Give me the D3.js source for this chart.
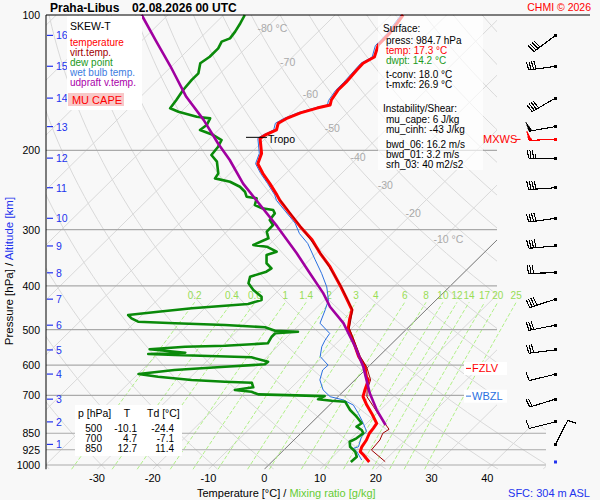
<!DOCTYPE html>
<html>
<head>
<meta charset="utf-8">
<script src="https://cdn.jsdelivr.net/npm/d3@7"></script>
<style>
  body { margin: 0; background: #f8f8f8; }
  svg { display: block; font-family: "Liberation Sans", Arial, sans-serif; }
</style>
</head>
<body>
<div id="chart"></div>
<script>
// ---- sounding data (pressure hPa / temperature °C) ----
const tempP = [984.7,950,934,911,880,850,829,808,768,736,705,681,647,637,605,574,528,497,476,452,426,398,362.5,338.5,316,295,276,258,251,237,225,214,203,188,185,180,174,170,165,161,158.5,154.5,147,141,132.5,128,124,121,116.6,109.6,100];
const tempT = [17.5,15.2,14.0,13.4,13.0,12.3,12.1,11.8,9.1,6.7,4.5,3.6,2.4,1.5,-0.6,-3.6,-7.6,-10.6,-11.9,-13.3,-16.4,-20.0,-25.1,-29.3,-33.2,-37.8,-42.0,-46.2,-47.7,-51.0,-54.1,-56.8,-58.0,-61.0,-60.7,-59.6,-60.5,-59.9,-58.4,-56.3,-54.5,-55.2,-55.8,-55.8,-56.1,-56.2,-55.3,-55.9,-56.8,-56.9,-57.8];

const dewP = [100,104.3,108.9,112.7,114.6,118.6,123.8,128,134.8,139.4,146.8,154.5,161.2,164,168.3,169.7,175.6,180.1,184.8,189.6,196.2,204.7,211.8,225,230.7,234.7,240.8,247,253.4,255.5,264.4,268.9,271.3,276,285.5,292.9,303.1,313.5,324.4,327.2,335.7,341.5,356.2,365.5,371.9,381.5,394.6,408.4,422.7,429.9,438.7,448.5,456.4,464.2,472.1,480.3,484.3,488.6,494.3,503,505.6,509.7,518.7,536.5,543.1,545.9,553.2,562.9,566.7,569.5,576.3,589.4,597.3,604.7,615,627.7,636.5,647.3,653,656.3,671.9,681.3,687.6,696.8,702.9,714.5,719.6,723.3,754.7,781,807.8,822,835.9,850,872.4,887.7,911,934,958.4,984.7];
const dewT = [-86.2,-85.5,-84.9,-84.6,-85.5,-84.9,-84.9,-85.4,-83.9,-83.9,-83.6,-83.0,-82.6,-80.5,-76.3,-73.6,-73.0,-73.3,-70.0,-67.6,-67.0,-66.7,-64.5,-62.1,-61.8,-58.5,-55.8,-54.0,-52.8,-50.7,-49.8,-47.9,-45.6,-44.7,-44.4,-42.9,-42.8,-41.3,-42.8,-40.1,-37.4,-38.6,-37.1,-35.3,-35.6,-37.6,-36.7,-34.6,-31.9,-31.3,-33.0,-42.3,-47.7,-52.5,-51.3,-49.5,-42.6,-33.3,-25.7,-23.3,-19.0,-22.8,-22.8,-22.3,-29.5,-36.5,-42.4,-35.4,-41.8,-36.8,-22.7,-18.9,-19.0,-25.7,-34.2,-39.9,-35.9,-29.3,-23.0,-18.0,-16.9,-19.7,-16.4,-14.7,-2.5,-3.1,-0.4,2.2,4.6,7.0,9.1,8.8,10.3,11.2,10.9,10.3,11.3,13.1,14.3,14.2];

const wetP = [100,110,117,124,128,141,147,155,158.5,161,165,170,174,180,185,188,203,214,225,237,251,258,290,306,322,350,375,402,430,452,484,510,528,546,574,600,615,647,681,705,717,736,768,808,843,865,911,918,934,975];
const wetT = [-58.2,-57.3,-57.2,-55.7,-56.6,-56.2,-56.2,-55.6,-55.0,-56.8,-58.9,-60.4,-61.0,-60.1,-61.1,-61.4,-58.4,-57.2,-54.5,-51.4,-48.1,-46.8,-39.3,-36.6,-33.3,-29.0,-25.4,-22.0,-19.3,-18.1,-16.6,-13.0,-12.6,-12.0,-10.5,-7.5,-7.6,-6.3,-3.9,-1.4,1.6,4.3,6.7,9.4,11.5,11.5,12.8,12.2,13.4,15.8];

const virtP = [983,926,880,850,833,781,742,705,681,647,605,574,528,497,452,398,338.5,295,258];
const virtT = [20.3,15.7,15.4,14.7,15.1,11.2,8.2,5.2,4.0,2.8,-0.3,-3.3,-7.4,-10.4,-13.2,-19.9,-29.2,-37.7,-46.1];

const parcelP = [815,755,693,605,546,484,445,415,375,338.5,295,258,237,210,193,171,152,130,114,100];
const parcelT = [13.7,9.4,5.1,-0.9,-6.0,-12.4,-17.8,-21.5,-27.5,-33.5,-41.9,-50.4,-55.8,-62.5,-67.6,-74.5,-81.8,-90.2,-97.5,-104.7];

// wind at each km level
const altKm = [1,2,3,4,5,6,7,8,9,10,11,12,13,14,15,16];
const altP = [900,802,714,628,555,489,428,374,326,283,242,208,177,153,130,111];
const windDir = [27,256,253,256,263,259,252,269,265,262,266,270,260,240,262,233];
const windSpd = [10,10,20,10,30,30,40,30,40,40,40,35,50,40,40,40];
const mxwsP = 189, mxwsDir = 268, mxwsSpd = 50;
const sfcP = 984.7;

// axes and reference lines
const pressureTicks = [100,200,300,400,500,600,700,850,925,1000];
const tempTicks = [-30,-20,-10,0,10,20,30,40];
const mixRatios = [0.2,0.4,0.6,1,1.4,2,3,4,6,8,10,12,14,17,20,25];
const mixLabels = ["0.2","0.4","0.6","1","1.4","2","3","4","6","8","10","12","14","17","20","25"];
const isoLabelT = [-80,-70,-60,-50,-40,-30,-20,-10];
const isoLabelP = [107,127,150,178,207,239,275,315];
const tropoP = 187, fzlvP = 610, wbzlP = 703;

const surfaceLines = [
  ["press: 984.7 hPa", "#000"], ["temp: 17.3 °C", "#ff0000"], ["dwpt: 14.2 °C", "#229922"],
  ["t-conv: 18.0 °C", "#000"], ["t-mxfc: 26.9 °C", "#000"]
];
const shearLines = ["mu_cape: 6 J/kg", "mu_cinh: -43 J/kg", "bwd_06: 16.2 m/s", "bwd_01: 3.2 m/s", "srh_03: 40 m2/s2"];
const tableP = ["500","700","850"];
const tableT = ["-10.1","4.7","12.7"];
const tableTd = ["-24.4","-7.1","11.4"];

// ---- layout ----
const W = 600, H = 500;
const svg = d3.select("#chart").append("svg").attr("width", W).attr("height", H);
svg.append("rect").attr("width", W).attr("height", H).attr("fill", "#f8f8f8");

const pBottom = 1022;
const y = d3.scaleLog().domain([100, 1000]).range([15, 465]);
const yBottom = y(pBottom);
const xBase = d3.scaleLinear().domain([-30, 40]).range([97.05, 487.3]);
const SKEW = 1.015;
const xT = (t, p) => xBase(t) + SKEW * (yBottom - y(p));
const tdFromW = (w, p) => {
  const l = Math.log(w * p / (622 + w) / 6.112);
  return 243.5 * l / (17.67 - l);
};
const skewLine = d3.line().x(d => xT(d[1], d[0])).y(d => y(d[0]));

svg.append("defs").append("clipPath").attr("id", "gridClip").append("polygon")
  .attr("points", [[46,15],[497,15],[497,425],[546,425],[546,yBottom],[46,yBottom]].map(d => d.join(",")).join(" "));
const grid = svg.append("g").attr("clip-path", "url(#gridClip)");

// isotherms
d3.range(-130, 60, 10).forEach(t => {
  grid.append("line")
    .attr("x1", xT(t, pBottom)).attr("y1", yBottom)
    .attr("x2", xT(t, 100)).attr("y2", y(100))
    .attr("stroke", "#d9d9d9").attr("stroke-width", 1);
});
// dry adiabats
const pSteps = d3.range(0, 41).map(i => pBottom * Math.pow(100 / pBottom, i / 40));
d3.range(-40, 190, 10).forEach(th => {
  const pts = pSteps.map(p => [p, (th + 273.15) * Math.pow(p / 1000, 0.2857) - 273.15]);
  grid.append("path").attr("d", skewLine(pts))
    .attr("fill", "none").attr("stroke", "#d9d9d9").attr("stroke-width", 1);
});
// 0 °C isotherm
grid.append("line")
  .attr("x1", xT(0, pBottom)).attr("y1", yBottom)
  .attr("x2", xT(0, 100)).attr("y2", y(100))
  .attr("stroke", "#666").attr("stroke-width", 0.8);

// mixing ratio lines
const mixTop = 435;
const mixP = d3.range(0, 21).map(i => pBottom * Math.pow(mixTop / pBottom, i / 20));
mixRatios.forEach((w, i) => {
  svg.append("path").attr("d", skewLine(mixP.map(p => [p, tdFromW(w, p)])))
    .attr("fill", "none").attr("stroke", "#a8ee7a").attr("stroke-width", 0.9)
    .attr("stroke-dasharray", "4,2");
  svg.append("text").attr("x", xT(tdFromW(w, mixTop), mixTop)).attr("y", y(mixTop) - 3)
    .attr("text-anchor", "middle").attr("font-size", 10).attr("fill", "#99dd55")
    .text(mixLabels[i]);
});

// isotherm labels
isoLabelT.forEach((t, i) => {
  const withUnit = (t === -80 || t === -10);
  svg.append("text")
    .attr("x", xT(t, isoLabelP[i]) - (withUnit ? 8.5 : 0))
    .attr("y", y(isoLabelP[i]) + 4)
    .attr("text-anchor", withUnit ? "start" : "middle")
    .attr("font-size", 10.5).attr("fill", "#aaaaaa")
    .text(withUnit ? t + " °C" : t);
});

// isobars
pressureTicks.forEach(p => {
  if (p === 100) return;
  svg.append("line").attr("x1", 46).attr("x2", p >= 850 ? 546 : 497)
    .attr("y1", y(p)).attr("y2", y(p))
    .attr("stroke", "#aaaaaa").attr("stroke-width", 1.2);
});

// profiles
const zipPT = (P, T) => P.map((p, i) => [p, T[i]]);
const drawProfile = (P, T, color, width) =>
  svg.append("path").attr("d", skewLine(zipPT(P, T)))
    .attr("fill", "none").attr("stroke", color).attr("stroke-width", width)
    .attr("stroke-linejoin", "round");

drawProfile(wetP, wetT, "#2a70e0", 1);
drawProfile(dewP, dewT, "#0a8a0a", 2.6);
drawProfile(tempP, tempT, "#ff0000", 3);
drawProfile(virtP, virtT, "#a00000", 1);
drawProfile(parcelP, parcelT, "#a000a0", 2.6);

// tropopause
svg.append("line").attr("x1", 246).attr("x2", 267).attr("y1", y(tropoP)).attr("y2", y(tropoP))
  .attr("stroke", "#000").attr("stroke-width", 1);
svg.append("text").attr("x", 268).attr("y", y(tropoP) + 6).attr("font-size", 10.5).text("Tropo");

// frame
svg.append("line").attr("x1", 46).attr("x2", 590).attr("y1", y(100)).attr("y2", y(100)).attr("stroke", "#000");
svg.append("line").attr("x1", 46).attr("x2", 46).attr("y1", y(100)).attr("y2", yBottom).attr("stroke", "#000");

// pressure labels
pressureTicks.forEach(p => {
  svg.append("text").attr("x", 40).attr("y", y(p) + 4).attr("text-anchor", "end")
    .attr("font-size", 10.5).text(p);
});
// temperature labels
tempTicks.forEach(t => {
  svg.append("text").attr("x", xBase(t)).attr("y", 482).attr("text-anchor", "middle")
    .attr("font-size", 11).text(t);
});
// altitude ticks
altKm.forEach((k, i) => {
  svg.append("line").attr("x1", 47).attr("x2", 53).attr("y1", y(altP[i])).attr("y2", y(altP[i]))
    .attr("stroke", "#2233ee").attr("stroke-width", 1.2);
  svg.append("text").attr("x", 56).attr("y", y(altP[i]) + 4).attr("font-size", 10.5)
    .attr("fill", "#2233ee").text(k);
});

// legend box
svg.append("rect").attr("x", 67).attr("y", 16).attr("width", 75).attr("height", 94).attr("fill", "#fff");
const legendItems = [["SKEW-T","#000"],["temperature","#ff0000"],["virt.temp.","#a00000"],
  ["dew point","#229922"],["wet bulb temp.","#3c7de0"],["udpraft v.temp.","#aa00aa"]];
legendItems.forEach((d, i) => {
  svg.append("text").attr("x", 70).attr("y", i === 0 ? 30 : 36 + i * 10)
    .attr("font-size", i === 0 ? 10.5 : 10).attr("fill", d[1]).text(d[0]);
});
svg.append("rect").attr("x", 68).attr("y", 93).attr("width", 56).attr("height", 13).attr("fill", "#f8c8c8");
svg.append("text").attr("x", 97).attr("y", 104).attr("text-anchor", "middle")
  .attr("font-size", 11).attr("fill", "#ff0000").text("MU CAPE");

// info box
svg.append("rect").attr("x", 378).attr("y", 16).attr("width", 105).attr("height", 154)
  .attr("fill", "#fff").attr("opacity", 0.65);
svg.append("text").attr("x", 383).attr("y", 31.5).attr("font-size", 10).text("Surface:");
surfaceLines.forEach((d, i) => {
  svg.append("text").attr("x", 386).attr("y", [44, 54, 64, 78, 88][i])
    .attr("font-size", 10).attr("fill", d[1]).text(d[0]);
});
svg.append("text").attr("x", 383).attr("y", 112).attr("font-size", 10).text("Instability/Shear:");
shearLines.forEach((d, i) => {
  svg.append("text").attr("x", 386).attr("y", [123, 133, 148, 158, 168][i])
    .attr("font-size", 10).text(d);
});

// table box
svg.append("rect").attr("x", 75).attr("y", 405).attr("width", 107).attr("height", 51).attr("fill", "#fff");
svg.append("text").attr("x", 78).attr("y", 417).attr("font-size", 10.5).text("p [hPa]");
svg.append("text").attr("x", 127).attr("y", 417).attr("text-anchor", "middle").attr("font-size", 10.5).text("T");
svg.append("text").attr("x", 147).attr("y", 417).attr("font-size", 10.5).text("Td [°C]");
tableP.forEach((p, i) => {
  const yy = 432 + i * 10;
  svg.append("text").attr("x", 102).attr("y", yy).attr("text-anchor", "end").attr("font-size", 10).text(p);
  svg.append("text").attr("x", 137).attr("y", yy).attr("text-anchor", "end").attr("font-size", 10).text(tableT[i]);
  svg.append("text").attr("x", 174).attr("y", yy).attr("text-anchor", "end").attr("font-size", 10).text(tableTd[i]);
});

// FZLV / WBZL
[[fzlvP, "FZLV", "#ff0000"], [wbzlP, "WBZL", "#2a70e0"]].forEach(d => {
  const yy = y(d[0]);
  svg.append("rect").attr("x", 464).attr("y", yy - 6.5).attr("width", 43).attr("height", 13).attr("fill", "#fff");
  svg.append("line").attr("x1", 466).attr("x2", 471).attr("y1", yy).attr("y2", yy).attr("stroke", d[2]);
  svg.append("text").attr("x", 472).attr("y", yy + 4).attr("font-size", 11).attr("fill", d[2]).text(d[1]);
});

// wind barbs
function drawBarb(cx, cy, dir, spd, color) {
  const g = svg.append("g").attr("shape-rendering", "crispEdges");
  const r = dir * Math.PI / 180;
  const ux = Math.sin(r), uy = -Math.cos(r);
  const bx = -uy, by = ux;
  const L = 27, bl = 8.5, sp = 2.5;
  const tx = cx + ux * L, ty = cy + uy * L;
  g.append("line").attr("x1", cx).attr("y1", cy).attr("x2", tx).attr("y2", ty)
    .attr("stroke", color).attr("stroke-width", 1.1);
  let s = Math.round(spd / 5) * 5;
  const pen = Math.floor(s / 50); s -= pen * 50;
  const full = Math.floor(s / 10); s -= full * 10;
  const half = s >= 5;
  let pos = 0;
  for (let i = 0; i < pen; i++) {
    const x0 = tx - ux * pos, y0 = ty - uy * pos;
    const x1 = tx - ux * (pos + 3.5), y1 = ty - uy * (pos + 3.5);
    g.append("polygon")
      .attr("points", [[x0, y0], [x0 + bx * (bl + 1) + ux * 1.5, y0 + by * (bl + 1) + uy * 1.5], [x1, y1]].map(d => d.join(",")).join(" "))
      .attr("fill", color).attr("stroke", color).attr("stroke-width", 0.5);
    pos += 4.5;
  }
  for (let i = 0; i < full; i++) {
    const x0 = tx - ux * pos, y0 = ty - uy * pos;
    g.append("line").attr("x1", x0).attr("y1", y0)
      .attr("x2", x0 + bx * bl + ux * 1.2).attr("y2", y0 + by * bl + uy * 1.2)
      .attr("stroke", color).attr("stroke-width", 1.1);
    pos += sp;
  }
  if (half) {
    if (pos === 0) pos = sp;
    const x0 = tx - ux * pos, y0 = ty - uy * pos;
    g.append("line").attr("x1", x0).attr("y1", y0)
      .attr("x2", x0 + bx * bl / 2 + ux * 0.6).attr("y2", y0 + by * bl / 2 + uy * 0.6)
      .attr("stroke", color).attr("stroke-width", 1.1);
  }
  g.append("rect").attr("x", cx - 1.5).attr("y", cy - 1.5).attr("width", 3).attr("height", 3).attr("fill", color);
}
const barbX = 555.5;
altP.forEach((p, i) => drawBarb(barbX, y(p), windDir[i], windSpd[i], "#000"));
drawBarb(barbX, y(mxwsP), mxwsDir, mxwsSpd, "#ff0000");
svg.append("rect").attr("x", barbX - 1.5).attr("y", y(sfcP) - 1.5).attr("width", 3).attr("height", 3).attr("fill", "#2233ee");
svg.append("text").attr("x", 483).attr("y", y(mxwsP) + 4).attr("font-size", 11).attr("fill", "#ff0000").text("MXWS");
svg.append("line").attr("x1", 515.5).attr("x2", 520.5).attr("y1", y(mxwsP)).attr("y2", y(mxwsP)).attr("stroke", "#ff0000");

// titles
svg.append("text").attr("x", 50).attr("y", 11.5).attr("font-size", 12).attr("font-weight", "bold").text("Praha-Libus");
svg.append("text").attr("x", 132).attr("y", 11.5).attr("font-size", 12).attr("font-weight", "bold").text("02.08.2026 00 UTC");
svg.append("text").attr("x", 591).attr("y", 11).attr("text-anchor", "end").attr("font-size", 10.5)
  .attr("fill", "#ff0000").text("CHMI © 2026");

const xTitle = svg.append("text").attr("x", 197).attr("y", 497).attr("font-size", 11);
xTitle.append("tspan").text("Temperature [°C]  /  ");
xTitle.append("tspan").attr("fill", "#66cc33").text("Mixing ratio [g/kg]");
svg.append("text").attr("x", 590).attr("y", 497).attr("text-anchor", "end").attr("font-size", 11)
  .attr("fill", "#2233ee").text("SFC: 304 m ASL");

const yTitle = svg.append("text").attr("transform", "translate(13,271) rotate(-90)")
  .attr("text-anchor", "middle").attr("font-size", 11.5);
yTitle.append("tspan").text("Pressure [hPa]  /  ");
yTitle.append("tspan").attr("fill", "#2233ee").text("Altitude [km]");
</script>
</body>
</html>
